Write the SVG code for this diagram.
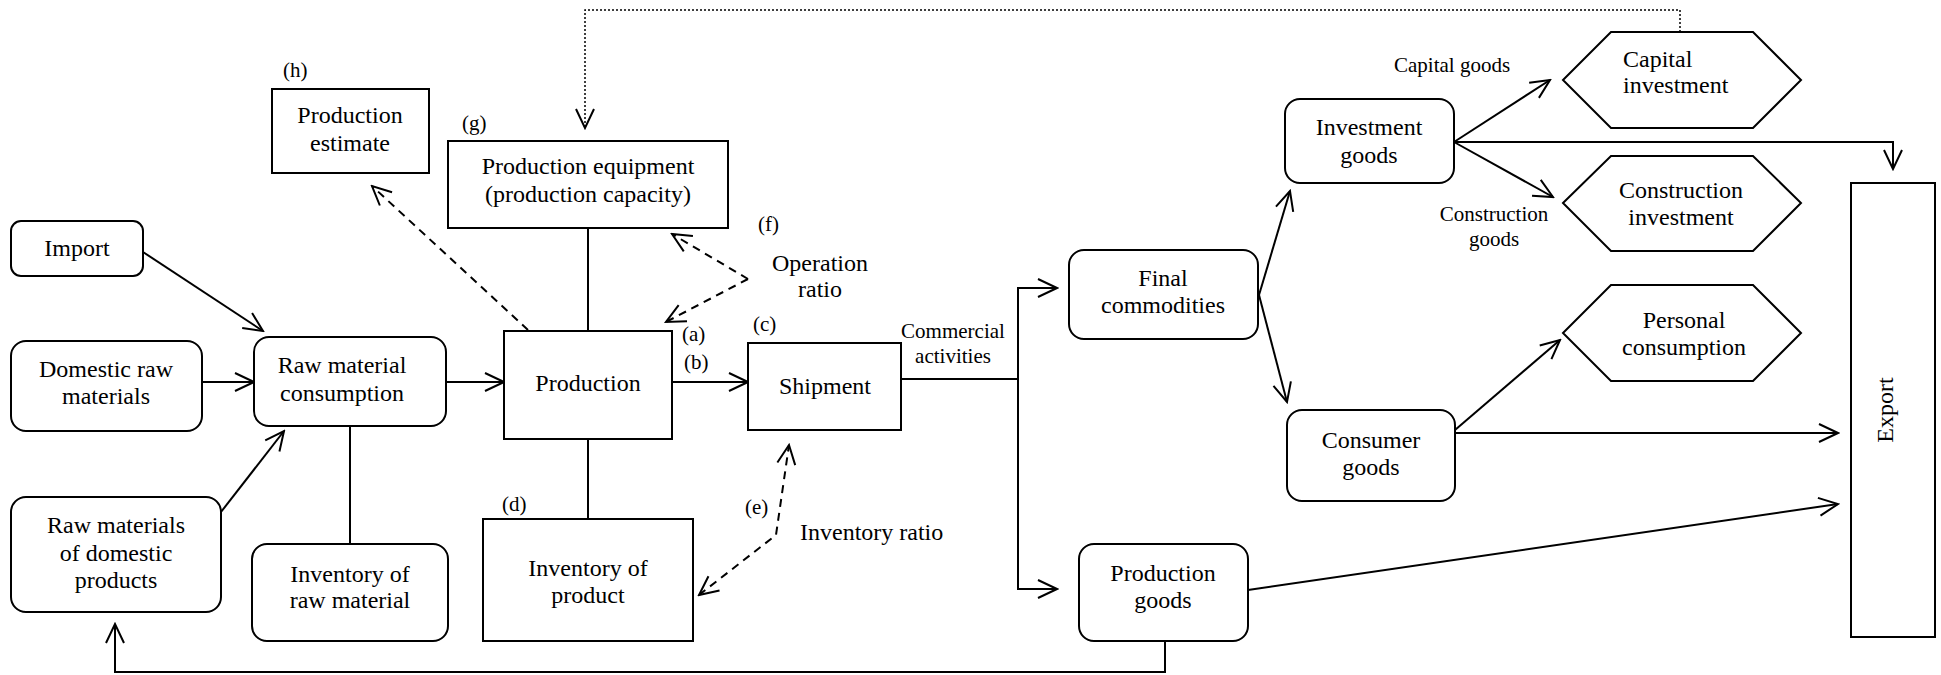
<svg xmlns="http://www.w3.org/2000/svg" width="1941" height="675" viewBox="0 0 1941 675" font-family="'Liberation Serif', 'DejaVu Serif', serif">
<style>
.box{fill:#fff;stroke:#000;stroke-width:2}
.ln{fill:none;stroke:#000;stroke-width:2}
.dash{stroke-dasharray:8 6}
.dot{stroke-width:1.5;stroke-dasharray:2 2}
text{font-family:'Liberation Serif','DejaVu Serif',serif;font-size:24px;fill:#000;text-anchor:middle}
.s{font-size:21px}
.st{text-anchor:start}
</style>
<defs>
<marker id="arr" viewBox="-22 -12 24 24" markerWidth="24" markerHeight="24" refX="0" refY="0" orient="auto-start-reverse" markerUnits="userSpaceOnUse">
<path d="M-19,-9 L0,0 L-19,9" fill="none" stroke="#000" stroke-width="2"/>
</marker>
</defs>
<rect width="1941" height="675" fill="#fff"/>

<g id="connectors">
<line class="ln" x1="143" y1="252" x2="263" y2="331" marker-end="url(#arr)"/>
<line class="ln" x1="202" y1="382" x2="254" y2="382" marker-end="url(#arr)"/>
<line class="ln" x1="221" y1="512" x2="284" y2="431" marker-end="url(#arr)"/>
<line class="ln" x1="350" y1="426" x2="350" y2="544"/>
<line class="ln" x1="446" y1="382" x2="504" y2="382" marker-end="url(#arr)"/>
<line class="ln" x1="672" y1="382" x2="748" y2="382" marker-end="url(#arr)"/>
<line class="ln" x1="588" y1="228" x2="588" y2="331"/>
<line class="ln" x1="588" y1="439" x2="588" y2="519"/>
<line class="ln dash" x1="528" y1="330" x2="372" y2="186" marker-end="url(#arr)"/>
<line class="ln dash" x1="748" y1="279" x2="672" y2="234" marker-end="url(#arr)"/>
<line class="ln dash" x1="748" y1="279" x2="666" y2="322" marker-end="url(#arr)"/>
<polyline class="ln dash" points="699,595 776,535 789,445" marker-start="url(#arr)" marker-end="url(#arr)"/>
<polyline class="ln dot" points="1680,32 1680,10 585,10 585,128" marker-end="url(#arr)"/>
<line class="ln" x1="901" y1="379" x2="1018" y2="379"/>
<polyline class="ln" points="1057,288 1018,288 1018,589 1057,589" marker-start="url(#arr)" marker-end="url(#arr)"/>
<line class="ln" x1="1259" y1="295" x2="1290" y2="191" marker-end="url(#arr)"/>
<line class="ln" x1="1259" y1="295" x2="1287" y2="402" marker-end="url(#arr)"/>
<line class="ln" x1="1454" y1="142" x2="1550" y2="80" marker-end="url(#arr)"/>
<line class="ln" x1="1454" y1="142" x2="1553" y2="197" marker-end="url(#arr)"/>
<polyline class="ln" points="1454,142 1893,142 1893,169" marker-end="url(#arr)"/>
<line class="ln" x1="1455" y1="430" x2="1560" y2="340" marker-end="url(#arr)"/>
<line class="ln" x1="1455" y1="433" x2="1838" y2="433" marker-end="url(#arr)"/>
<line class="ln" x1="1248" y1="590" x2="1838" y2="504" marker-end="url(#arr)"/>
<polyline class="ln" points="1165,641 1165,672 115,672 115,624" marker-end="url(#arr)"/>
</g>

<g id="labels">
<text x="820" y="271">Operation</text>
<text x="820" y="297">ratio</text>
<text class="s st" x="758" y="231">(f)</text>
<text class="st" x="800" y="540">Inventory ratio</text>
<text class="s st" x="745" y="514">(e)</text>
<text class="s" x="953" y="338">Commercial</text>
<text class="s" x="953" y="363">activities</text>
<text class="s st" x="1394" y="72">Capital goods</text>
<text class="s" x="1494" y="221">Construction</text>
<text class="s" x="1494" y="246">goods</text>
</g>

<g id="n-import">
<rect class="box" x="11" y="221" width="132" height="55" rx="10"/>
<text x="77" y="256">Import</text>
</g>
<g id="n-domestic">
<rect class="box" x="11" y="341" width="191" height="90" rx="15"/>
<text x="106" y="377">Domestic raw</text>
<text x="106" y="404">materials</text>
</g>
<g id="n-rmdp">
<rect class="box" x="11" y="497" width="210" height="115" rx="15"/>
<text x="116" y="533">Raw materials</text>
<text x="116" y="561">of domestic</text>
<text x="116" y="588">products</text>
</g>
<g id="n-rmc">
<rect class="box" x="254" y="337" width="192" height="89" rx="15"/>
<text x="342" y="373">Raw material</text>
<text x="342" y="401">consumption</text>
</g>
<g id="n-invraw">
<rect class="box" x="252" y="544" width="196" height="97" rx="15"/>
<text x="350" y="582">Inventory of</text>
<text x="350" y="608">raw material</text>
</g>
<g id="n-estimate">
<rect class="box" x="272" y="89" width="157" height="84"/>
<text x="350" y="123">Production</text>
<text x="350" y="151">estimate</text>
<text class="s st" x="283" y="77">(h)</text>
</g>
<g id="n-equipment">
<rect class="box" x="448" y="141" width="280" height="87"/>
<text x="588" y="174">Production equipment</text>
<text x="588" y="202">(production capacity)</text>
<text class="s st" x="462" y="130">(g)</text>
</g>
<g id="n-production">
<rect class="box" x="504" y="331" width="168" height="108"/>
<text x="588" y="391">Production</text>
<text class="s st" x="682" y="341">(a)</text>
<text class="s st" x="684" y="369">(b)</text>
</g>
<g id="n-shipment">
<rect class="box" x="748" y="343" width="153" height="87"/>
<text x="825" y="394">Shipment</text>
<text class="s st" x="753" y="331">(c)</text>
</g>
<g id="n-invprod">
<rect class="box" x="483" y="519" width="210" height="122"/>
<text x="588" y="576">Inventory of</text>
<text x="588" y="603">product</text>
<text class="s st" x="502" y="511">(d)</text>
</g>
<g id="n-final">
<rect class="box" x="1069" y="250" width="189" height="89" rx="15"/>
<text x="1163" y="286">Final</text>
<text x="1163" y="313">commodities</text>
</g>
<g id="n-invgoods">
<rect class="box" x="1285" y="99" width="169" height="84" rx="15"/>
<text x="1369" y="135">Investment</text>
<text x="1369" y="163">goods</text>
</g>
<g id="n-consumer">
<rect class="box" x="1287" y="410" width="168" height="91" rx="15"/>
<text x="1371" y="448">Consumer</text>
<text x="1371" y="475">goods</text>
</g>
<g id="n-prodgoods">
<rect class="box" x="1079" y="544" width="169" height="97" rx="15"/>
<text x="1163" y="581">Production</text>
<text x="1163" y="608">goods</text>
</g>
<g id="n-capinv">
<polygon class="box" points="1563,80 1611,32 1753,32 1801,80 1753,128 1611,128"/>
<text class="st" x="1623" y="67">Capital</text>
<text class="st" x="1623" y="93">investment</text>
</g>
<g id="n-consinv">
<polygon class="box" points="1563,203 1611,156 1753,156 1801,203 1753,251 1611,251"/>
<text x="1681" y="198">Construction</text>
<text x="1681" y="225">investment</text>
</g>
<g id="n-personal">
<polygon class="box" points="1563,333 1611,285 1753,285 1801,333 1753,381 1611,381"/>
<text x="1684" y="328">Personal</text>
<text x="1684" y="355">consumption</text>
</g>
<g id="n-export">
<rect class="box" x="1851" y="183" width="84" height="454"/>
<text transform="translate(1893,410) rotate(-90)">Export</text>
</g>
</svg>
